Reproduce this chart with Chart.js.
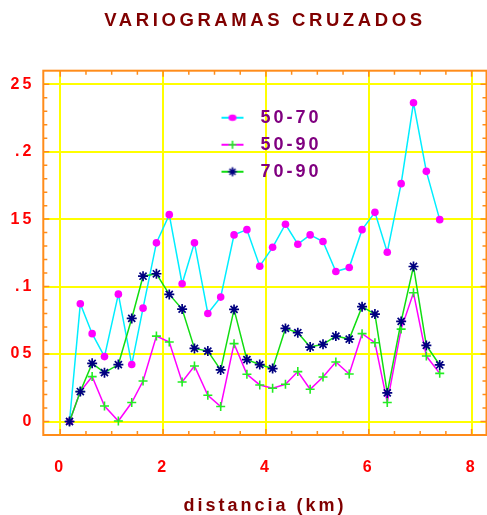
<!DOCTYPE html>
<html><head><meta charset="utf-8">
<script src="https://cdn.jsdelivr.net/npm/chart.js@4/dist/chart.umd.min.js"></script>
<style>
html,body{margin:0;padding:0;background:#fff;overflow:hidden;}
#wrap{position:relative;width:487px;height:515px;overflow:hidden;background:#fff;}
#clip{position:absolute;left:10px;top:0;width:477px;height:515px;overflow:hidden;}
#c{position:absolute;left:-20px;top:0;width:497px;height:515px;}
</style></head><body>
<div id="wrap"><div id="clip"><canvas id="c" width="497" height="515"></canvas></div></div>
<script>
// ---- data ----
const lagKm = [0.18,0.39,0.62,0.86,1.13,1.39,1.61,1.87,2.12,2.37,2.61,2.87,3.12,3.38,3.63,3.88,4.13,4.38,4.62,4.86,5.11,5.36,5.62,5.87,6.12,6.36,6.63,6.87,7.12,7.38];
const v5070 = [0,0.0873,0.0651,0.0481,0.0944,0.0422,0.0840,0.1324,0.1533,0.1021,0.1324,0.0801,0.0922,0.1383,0.1422,0.1151,0.1291,0.1462,0.1314,0.1383,0.1334,0.1112,0.1141,0.1422,0.1550,0.1254,0.1763,0.2362,0.1854,0.1496];
const v5090 = [0,0.0222,0.0333,0.0115,0.0004,0.0141,0.0300,0.0633,0.0589,0.0293,0.0411,0.0195,0.0111,0.0577,0.0350,0.0271,0.0246,0.0276,0.0370,0.0239,0.0330,0.0441,0.0352,0.0651,0.0584,0.0141,0.0685,0.0954,0.0485,0.0357];
const v7090 = [0,0.0222,0.0431,0.0362,0.0422,0.0764,0.1077,0.1095,0.0942,0.0833,0.0542,0.0522,0.0382,0.0831,0.0459,0.0422,0.0392,0.0690,0.0658,0.0552,0.0572,0.0633,0.0611,0.0851,0.0796,0.0212,0.0742,0.1149,0.0564,0.0419];
const seriesNames = ['50-70','50-90','70-90'];
const xTicks = [0,2,4,6,8];
const xTickLabels = ['0','2','4','6','8'];
const yTicks = [0,0.05,0.1,0.15,0.2,0.25];
const yTickLabels = ['0','.05','.1','.15','.2','.25'];
const xMinorStep = 0.5;
const yMinorStep = 0.01;
const titleText = 'VARIOGRAMAS CRUZADOS';
const xTitleText = 'distancia (km)';

// ---- styles ----
const FONT = "'Liberation Sans', Arial, sans-serif";
const FRAME = '#FF8C1A';
const GRID = '#FFFF00';
const BASE_SPACING = '3px';
const TITLE_SPACING = '3.6px';

function icon(lineColor, kind, markColor) {
  const c = document.createElement('canvas');
  c.width = 24; c.height = 12;
  const g = c.getContext('2d');
  g.strokeStyle = lineColor; g.lineWidth = 2;
  g.beginPath(); g.moveTo(1, 6); g.lineTo(23, 6); g.stroke();
  g.strokeStyle = markColor; g.fillStyle = markColor;
  if (kind === 'circle') {
    g.beginPath(); g.ellipse(12, 6, 4, 3.3, 0, 0, Math.PI * 2); g.fill();
  } else if (kind === 'cross') {
    g.lineWidth = 1.6; g.beginPath();
    g.moveTo(12, 2); g.lineTo(12, 10); g.moveTo(8, 6); g.lineTo(16, 6); g.stroke();
  } else {
    g.lineWidth = 1.6; g.beginPath();
    g.moveTo(12, 1.5); g.lineTo(12, 10.5); g.moveTo(7.5, 6); g.lineTo(16.5, 6);
    g.moveTo(9, 3); g.lineTo(15, 9); g.moveTo(15, 3); g.lineTo(9, 9); g.stroke();
  }
  return c;
}
const icons = [icon('#00EEFF','circle','#FF00FF'), icon('#FF00FF','cross','#22EE22'), icon('#11DD11','star','#000080')];

const framePlugin = {
  id: 'frame',
  beforeDraw(chart) {
    chart.ctx.letterSpacing = BASE_SPACING;
    const tb = chart.titleBlock;
    if (tb && !tb._spaced) {
      const orig = tb.draw;
      tb.draw = function () {
        const c = this.ctx; const p = c.letterSpacing;
        c.letterSpacing = TITLE_SPACING; orig.apply(this, arguments); c.letterSpacing = p;
      };
      tb._spaced = true;
    }
  },
  afterLayout(chart) {
    const lg = chart.legend, ca = chart.chartArea, tb = chart.titleBlock;
    if (tb) { tb.left = ca.left; tb.right = ca.right; }
    if (!lg) return;
    lg.left = ca.left + 161.2; lg.right = ca.right;
    lg.top = ca.top + 29; lg.bottom = ca.bottom;
  },
  beforeDatasetsDraw(chart) {
    const {ctx, chartArea: {left, right, top, bottom}, scales: {x, y}} = chart;
    ctx.save();
    ctx.strokeStyle = FRAME; ctx.lineWidth = 1.5;
    ctx.beginPath();
    const x0 = xTicks[0], x1 = xTicks[xTicks.length - 1];
    for (let k = 0; x0 + k * xMinorStep <= x1 + 1e-9; k++) {
      const v = x0 + k * xMinorStep;
      const major = xTicks.some(t => Math.abs(t - v) < 1e-9);
      const L = major ? 6 : 4;
      const px = x.getPixelForValue(v);
      ctx.moveTo(px, bottom); ctx.lineTo(px, bottom - L);
      ctx.moveTo(px, top); ctx.lineTo(px, top + L);
    }
    const y0 = yTicks[0], y1 = yTicks[yTicks.length - 1];
    for (let k = 0; y0 + k * yMinorStep <= y1 + 1e-9; k++) {
      const v = y0 + k * yMinorStep;
      const major = yTicks.some(t => Math.abs(t - v) < 1e-9);
      const L = major ? 6 : 4;
      const py = y.getPixelForValue(v);
      ctx.moveTo(left, py); ctx.lineTo(left + L, py);
      ctx.moveTo(right, py); ctx.lineTo(right - L, py);
    }
    ctx.stroke();
    ctx.lineWidth = 2;
    ctx.strokeRect(left, top, right - left, bottom - top);
    ctx.restore();
  }
};

const toPts = arr => lagKm.map((x, i) => ({x, y: arr[i]}));

new Chart(document.getElementById('c'), {
  type: 'line',
  data: {
    datasets: [
      {label: seriesNames[0], data: toPts(v5070), borderColor: '#00EEFF', borderWidth: 1.5,
       pointStyle: 'circle', pointRadius: 3.8, pointBackgroundColor: '#FF00FF', pointBorderColor: '#FF00FF',
       pointBorderWidth: 0, order: 3},
      {label: seriesNames[1], data: toPts(v5090), borderColor: '#FF00FF', borderWidth: 1.5,
       pointStyle: 'cross', pointRadius: 4.5, pointBorderColor: '#22EE22', pointBackgroundColor: '#22EE22',
       pointBorderWidth: 1.6, order: 2},
      {label: seriesNames[2], data: toPts(v7090), borderColor: '#11DD11', borderWidth: 1.5,
       pointStyle: 'star', pointRadius: 5, pointBorderColor: '#000080', pointBackgroundColor: '#000080',
       pointBorderWidth: 1.7, order: 1}
    ]
  },
  options: {
    responsive: false,
    animation: false,
    events: [],
    devicePixelRatio: 1,
    layout: {autoPadding: false, padding: {left: 0, right: 0.5, top: 0, bottom: 0}},
    scales: {
      x: {
        type: 'linear', min: -0.33, max: 8.29,
        afterBuildTicks: s => { s.ticks = xTicks.map(v => ({value: v})); },
        afterFit: s => { s.height = 80; s.paddingLeft = 0; s.paddingRight = 0; },
        ticks: {callback: (v, i) => xTickLabels[i], color: '#FF0000', padding: 0,
                font: {family: FONT, size: 16, weight: 'bold', lineHeight: 4.06}, maxRotation: 0, autoSkip: false},
        grid: {color: GRID, lineWidth: 2, drawTicks: false},
        border: {display: false},
        title: {display: true, text: xTitleText, color: '#800000', padding: {top: 0, bottom: 0},
                font: {family: FONT, size: 18, weight: 'bold', lineHeight: 1}}
      },
      y: {
        type: 'linear', min: -0.01, max: 0.26,
        afterBuildTicks: s => { s.ticks = yTicks.map(v => ({value: v})); },
        afterFit: s => { s.width = 53.3; s.paddingTop = 0; s.paddingBottom = 0; },
        ticks: {callback: (v, i) => yTickLabels[i], color: '#FF0000', padding: 9,
                font: {family: FONT, size: 16, weight: 'bold'}, autoSkip: false},
        grid: {color: GRID, lineWidth: 2, drawTicks: false},
        border: {display: false}
      }
    },
    plugins: {
      title: {display: true, text: titleText, color: '#800000', fullSize: false,
              font: {family: FONT, size: 18.5, weight: 'bold', lineHeight: 1.2},
              padding: {top: 10, bottom: 38.5}},
      legend: {
        display: true, position: 'chartArea', align: 'start',
        labels: {
          usePointStyle: true, pointStyleWidth: 38, padding: 9, color: '#800080',
          font: {family: FONT, size: 18, weight: 'bold'},
          generateLabels: chart => chart.data.datasets.map((ds, i) => ({
            text: ds.label, pointStyle: icons[i], fillStyle: 'rgba(0,0,0,0)',
            strokeStyle: 'rgba(0,0,0,0)', lineWidth: 0, hidden: false, datasetIndex: i, fontColor: '#800080'
          }))
        }
      },
      tooltip: {enabled: false}
    }
  },
  plugins: [framePlugin]
});
</script>
</body></html>
